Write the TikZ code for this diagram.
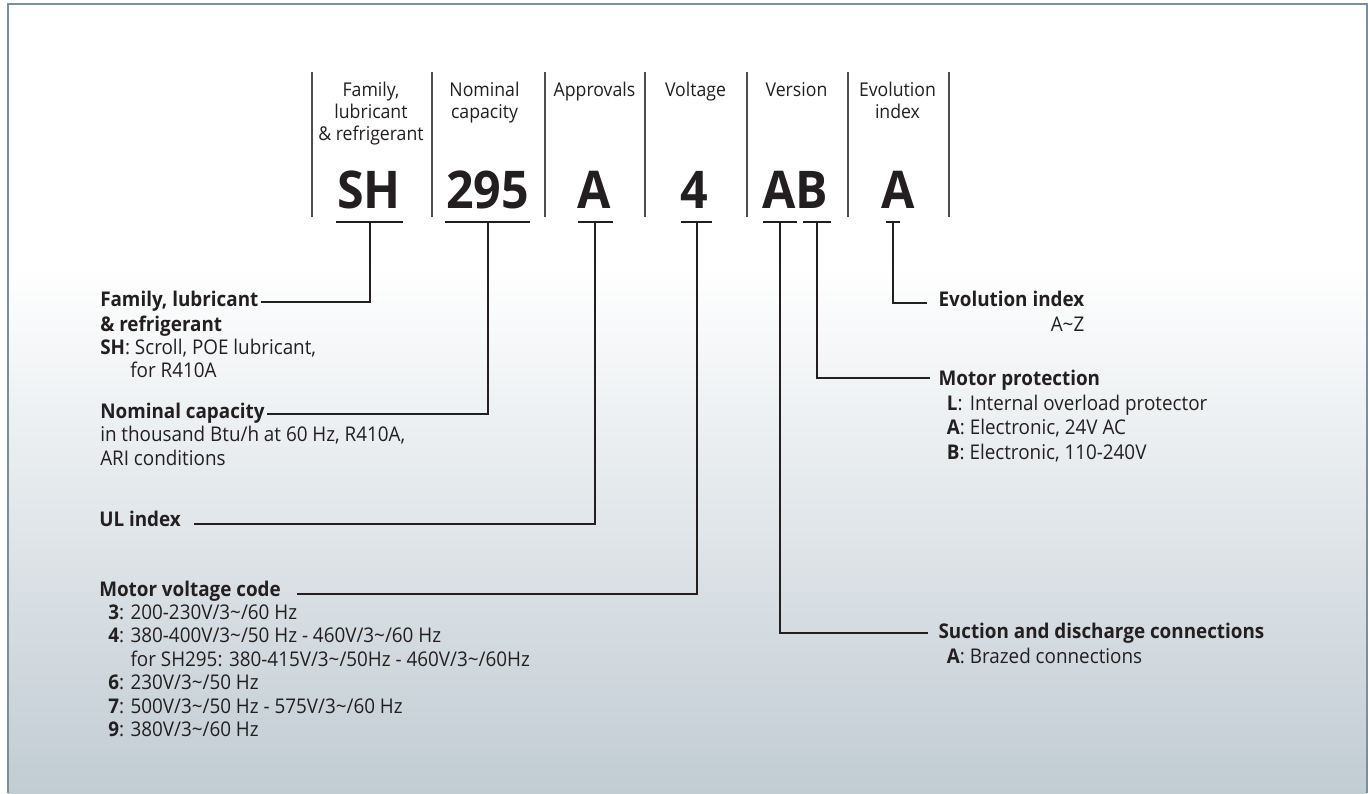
\documentclass[tikz,border=0pt]{standalone}
\usepackage{fontspec}
\setmainfont{Open Sans}[FakeStretch=0.93]
\definecolor{ink}{HTML}{231F20}
\definecolor{sepc}{HTML}{4D4D4F}
\definecolor{framec}{HTML}{7B8E9C}
\definecolor{bgbot}{HTML}{C1CCD3}
\newcommand\tld{\textasciitilde}
\begin{document}
\begin{tikzpicture}[x=0.75pt,y=-0.75pt,
  txt/.style={inner sep=0pt, text=ink},
  hdr/.style={txt, anchor=base, font=\fontsize{14.25}{16.25}\selectfont},
  codetxt/.style={txt, anchor=base, font=\fontsize{39}{40}\selectfont\bfseries},
  ttl/.style={txt, anchor=base west, font=\fontsize{15.2}{17.6}\selectfont\bfseries, text height=6pt, text depth=0pt},
  dsc/.style={txt, anchor=base west, font=\fontsize{15.2}{17.6}\selectfont},
  dscR/.style={txt, anchor=base west, font=\fontsize{15.2}{18.5}\selectfont},
  sepline/.style={draw=sepc, line width=1pt},
  conn/.style={draw=ink, line width=1.5pt},
]
\useasboundingbox (0,0) rectangle (1368,793);
% background panel
\fill[white] (8,4) rectangle (1367,793);
\shade[top color=white, bottom color=bgbot] (8,265) rectangle (1367,793);
\draw[framec, line width=1pt] (8,793) -- (8,4) -- (1367,4) -- (1367,793);

% column separators
\foreach \xx in {312,432,545,645,747,848,949}
  \draw[sepline] (\xx,72) -- (\xx,217);

% headers
\node[hdr] (hFam) at (371,96.7) {\begin{tabular}[t]{@{}c@{}}Family,\\lubricant\\\& refrigerant\end{tabular}};
\node[hdr] (hNom) at (484.5,96.7) {\begin{tabular}[t]{@{}c@{}}Nominal\\capacity\end{tabular}};
\node[hdr] (hApp) at (594.5,96.7) {Approvals};
\node[hdr] (hVol) at (695.5,96.7) {Voltage};
\node[hdr] (hVer) at (796.5,96.7) {Version};
\node[hdr] (hEvo) at (897.5,96.7) {\begin{tabular}[t]{@{}c@{}}Evolution\\index\end{tabular}};

% code letters
\node[codetxt] (cSH) at (369,208.3) {SH};
\node[codetxt] (c295) at (487.5,208.3) {295};
\node[codetxt] (cA) at (594.5,208.3) {A};
\node[codetxt] (c4) at (694.5,208.3) {4};
\node[codetxt] (cAB) at (795.5,208.3) {AB};
\node[codetxt] (cEv) at (898.5,208.3) {A};

% T bars under the codes
\coordinate (bSH) at (370,222);
\coordinate (b295) at (488,222);
\coordinate (bA) at (595,222);
\coordinate (b4) at (697,222);
\coordinate (bAB) at (780,222);
\coordinate (bB) at (817,222);
\coordinate (bEv) at (893,222);
\draw[conn] (336,222) -- (403,222);
\draw[conn] (445,222) -- (530,222);
\draw[conn] (578,222) -- (613,222);
\draw[conn] (681,222) -- (712,222);
\draw[conn] (763,222) -- (797,222);
\draw[conn] (803,222) -- (831,222);
\draw[conn] (886,222) -- (900,222);

% left labels
\node[ttl] (tFam) at (100,306.7) {Family, lubricant};
\node[dsc] (dFam) at (100,331) {\begin{tabular}[t]{@{}l@{}}\textbf{\& refrigerant}\\\textbf{SH}: Scroll, POE lubricant,\\\hspace{22.5pt}for R410A\end{tabular}};
\node[ttl] (tNom) at (100,418.3) {Nominal capacity};
\node[dsc] (dNom) at (100,441.7) {\begin{tabular}[t]{@{}l@{}}in thousand Btu/h at 60 Hz, R410A,\\ARI conditions\end{tabular}};
\node[ttl] (tUL) at (99,526.7) {UL index};
\node[ttl] (tMV) at (99,596) {Motor voltage code};
\node[dsc] (dMV) at (108,619.3) {\begin{tabular}[t]{@{}l@{}}\textbf{3}: 200-230V/3\tld/60 Hz\\
\textbf{4}: 380-400V/3\tld/50 Hz - 460V/3\tld/60 Hz\\
\phantom{\textbf{4}: }for SH295: 380-415V/3\tld/50Hz - 460V/3\tld/60Hz\\
\textbf{6}: 230V/3\tld/50 Hz\\
\textbf{7}: 500V/3\tld/50 Hz - 575V/3\tld/60 Hz\\
\textbf{9}: 380V/3\tld/60 Hz\end{tabular}};

% right labels
\node[ttl] (tEv) at (938.3,306.7) {Evolution index};
\node[dsc, anchor=base east] (dEv) at ([yshift=-18.3pt]tEv.base east) {A\tld Z};
\node[ttl] (tMP) at (938.3,385.7) {Motor protection};
\node[dscR] (dMP) at (946.7,410) {\begin{tabular}[t]{@{}l@{}}\rlap{\textbf{L}:}\phantom{\textbf{A}:} Internal overload protector\\
\textbf{A}: Electronic, 24V AC\\
\textbf{B}: Electronic, 110-240V\end{tabular}};
\node[ttl] (tSD) at (938.3,638.3) {Suction and discharge connections};
\node[dsc] (dSD) at (946.7,663) {\textbf{A}: Brazed connections};

% connectors
\draw[conn] (bSH) |- ([xshift=1.5pt,yshift=0.75pt]tFam.east);
\draw[conn] (b295) |- ([xshift=1.5pt]tNom.east);
\draw[conn] (bA) |- ([xshift=9.75pt,yshift=-1.2pt]tUL.east);
\draw[conn] (b4) |- ([xshift=12pt,yshift=-1.5pt]tMV.east);
\draw[conn] (bEv) |- ([xshift=-8.25pt]tEv.west);
\draw[conn] (bB) |- ([xshift=-6pt,yshift=2.5pt]tMP.west);
\draw[conn] (bAB) |- ([xshift=-7.5pt,yshift=0.75pt]tSD.west);
\end{tikzpicture}
\end{document}
